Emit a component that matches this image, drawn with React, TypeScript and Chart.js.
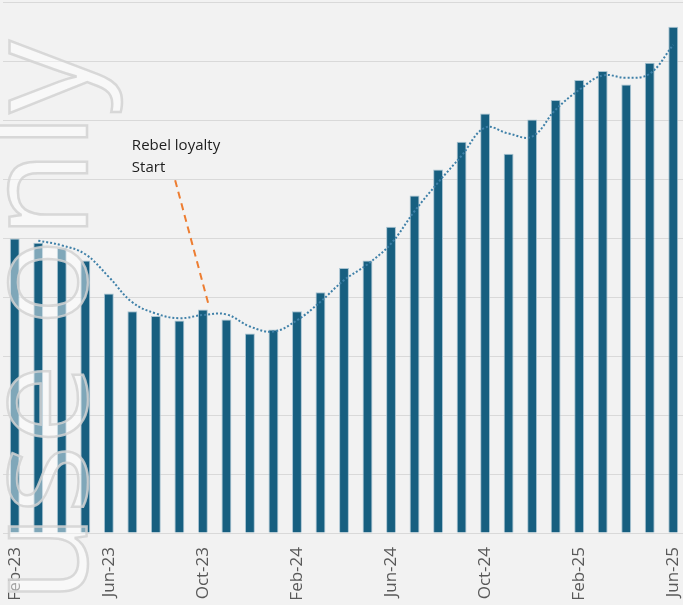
import React, { useEffect, useRef } from "react";
import { Chart, registerables } from "chart.js";

Chart.register(...registerables);

const months = [
  "Feb-23", "Mar-23", "Apr-23", "May-23", "Jun-23", "Jul-23", "Aug-23", "Sep-23",
  "Oct-23", "Nov-23", "Dec-23", "Jan-24", "Feb-24", "Mar-24", "Apr-24", "May-24",
  "Jun-24", "Jul-24", "Aug-24", "Sep-24", "Oct-24", "Nov-24", "Dec-24", "Jan-25",
  "Feb-25", "Mar-25", "Apr-25", "May-25", "Jun-25",
];

const values = [
  4.99, 4.92, 4.83, 4.62, 4.06, 3.76, 3.68, 3.6, 3.79, 3.62, 3.38, 3.45, 3.76, 4.08,
  4.49, 4.62, 5.19, 5.72, 6.16, 6.63, 7.11, 6.43, 7.01, 7.34, 7.68, 7.83, 7.6, 7.97, 8.58,
];

const tickEvery = 4;
const trendPeriod = 2; // moving-average trendline period
const yMax = 9;
const annotationLines = ["Rebel loyalty", "Start"];
const watermarkText = "use only";

function movingAverage(data: number[], period: number): (number | null)[] {
  return data.map((_, i) => {
    if (i < period - 1) return null;
    let s = 0;
    for (let k = i - period + 1; k <= i; k++) s += data[k];
    return s / period;
  });
}

const annotationPlugin = {
  id: "rebelAnnotation",
  afterDatasetsDraw(chart: any) {
    const { ctx, scales } = chart;
    const x = scales.x;
    const y = scales.y;
    ctx.save();
    ctx.strokeStyle = "#ED7D31";
    ctx.lineWidth = 2;
    ctx.setLineDash([7, 5]);
    ctx.beginPath();
    ctx.moveTo(x.getPixelForValue(6.82), y.getPixelForValue(5.98));
    ctx.lineTo(x.getPixelForValue(8.22), y.getPixelForValue(3.9));
    ctx.stroke();
    ctx.setLineDash([]);
    ctx.fillStyle = "#1E1E1E";
    ctx.font = "15px 'Open Sans'";
    ctx.textAlign = "left";
    ctx.textBaseline = "middle";
    const tx = x.getPixelForValue(4.98);
    const ty = y.getPixelForValue(6.56);
    annotationLines.forEach((line, i) => {
      ctx.fillText(line, tx, ty + i * 22);
    });
    ctx.restore();
  },
};

const watermarkPlugin = {
  id: "watermark",
  afterDraw(chart: any) {
    const { ctx } = chart;
    ctx.save();
    ctx.translate(87, 603);
    ctx.rotate(-Math.PI / 2);
    ctx.font = "145px 'Open Sans'";
    ctx.textAlign = "left";
    ctx.textBaseline = "alphabetic";
    ctx.fillStyle = "rgba(255,255,255,0.45)";
    ctx.fillText(watermarkText, 0, 0);
    ctx.strokeStyle = "rgba(210,210,210,0.85)";
    ctx.lineWidth = 2.5;
    ctx.strokeText(watermarkText, 0, 0);
    ctx.restore();
  },
};

export default function App() {
  const canvasRef = useRef<HTMLCanvasElement | null>(null);

  useEffect(() => {
    const canvas = canvasRef.current;
    if (!canvas) return;
    const trend = movingAverage(values, trendPeriod);
    const chart = new Chart(canvas, {
      type: "bar",
      data: {
        labels: months,
        datasets: [
          {
            type: "line",
            label: "Trend",
            data: trend,
            borderColor: "#3F80A8",
            borderWidth: 2,
            borderDash: [2, 2],
            borderCapStyle: "butt",
            pointRadius: 0,
            tension: 0.4,
            fill: false,
            spanGaps: true,
            order: 0,
          } as any,
          {
            type: "bar",
            label: "Value",
            data: values,
            backgroundColor: "#175F80",
            borderColor: "rgba(160,190,205,0.9)",
            borderWidth: 1,
            barPercentage: 0.42,
            categoryPercentage: 1,
            order: 1,
          },
        ],
      },
      options: {
        responsive: false,
        animation: false,
        devicePixelRatio: 1,
        layout: { padding: { left: 3, right: 3, top: 2, bottom: 0 } },
        plugins: {
          legend: { display: false },
          tooltip: { enabled: false },
        },
        scales: {
          x: {
            grid: { display: false },
            border: { display: false },
            ticks: {
              autoSkip: false,
              minRotation: 90,
              maxRotation: 90,
              padding: 6,
              color: "#595959",
              font: { family: "'Open Sans'", size: 17 },
              callback: (_v: any, i: number) => (i % tickEvery === 0 ? months[i] : ""),
            },
            afterFit: (scale: any) => {
              scale.height = 72;
              scale.paddingLeft = 0;
              scale.paddingRight = 0;
            },
          },
          y: {
            min: 0,
            max: yMax,
            ticks: { display: false, stepSize: 1 },
            grid: { color: "#D9D9D9", lineWidth: 1, drawTicks: false },
            border: { display: false },
            afterFit: (scale: any) => {
              scale.width = 0;
            },
          },
        },
      },
      plugins: [annotationPlugin, watermarkPlugin],
    });
    return () => chart.destroy();
  }, []);

  return (
    <div
      style={{
        position: "fixed",
        left: 0,
        top: 0,
        width: 683,
        height: 605,
        background: "#F2F2F2",
        overflow: "hidden",
      }}
    >
      <canvas ref={canvasRef} width={688} height={605} style={{ display: "block" }} />
    </div>
  );
}
